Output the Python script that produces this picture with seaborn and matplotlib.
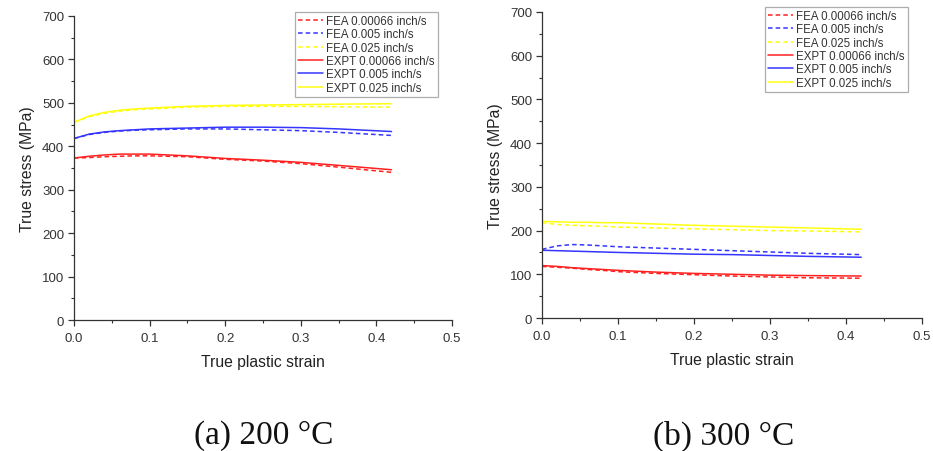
import matplotlib
matplotlib.use("Agg")
import matplotlib.pyplot as plt
import seaborn as sns
import pandas as pd

# True plastic strain sample points shared by all curves
strain = [0.0, 0.02, 0.04, 0.06, 0.08, 0.10, 0.15, 0.20, 0.25, 0.30, 0.35, 0.42]

# 200 °C — true stress (MPa)
fea_200_00066 = [373, 374, 376, 377, 378, 378, 376, 370, 366, 360, 352, 340]
fea_200_005 = [418, 427, 432, 435, 437, 438, 440, 440, 438, 436, 432, 425]
fea_200_025 = [455, 468, 476, 481, 484, 486, 490, 492, 492, 492, 491, 490]
expt_200_00066 = [373, 377, 380, 382, 382, 382, 378, 372, 368, 363, 356, 346]
expt_200_005 = [418, 428, 433, 436, 438, 440, 442, 444, 444, 443, 440, 434]
expt_200_025 = [455, 470, 478, 483, 486, 488, 492, 494, 495, 496, 497, 498]

# 300 °C — true stress (MPa)
fea_300_00066 = [118, 116, 114, 111, 109, 106, 102, 99, 96, 94, 92, 91]
fea_300_005 = [157, 165, 168, 167, 165, 163, 160, 157, 154, 151, 148, 145]
fea_300_025 = [218, 214, 212, 211, 210, 208, 206, 204, 202, 200, 199, 197]
expt_300_00066 = [120, 118, 115, 113, 111, 109, 105, 102, 100, 98, 97, 96]
expt_300_005 = [155, 154, 153, 152, 151, 150, 148, 146, 145, 143, 141, 139]
expt_300_025 = [221, 220, 219, 219, 218, 218, 215, 212, 210, 208, 206, 203]

labels = ["FEA 0.00066 inch/s", "FEA 0.005 inch/s", "FEA 0.025 inch/s",
          "EXPT 0.00066 inch/s", "EXPT 0.005 inch/s", "EXPT 0.025 inch/s"]
colors = ["#ff2020", "#3535ff", "#ffff10", "#ff2020", "#3535ff", "#ffff10"]
styles = [(0, (3, 2)), (0, (3, 2)), (0, (3, 2)), "-", "-", "-"]

panels = [
    ([fea_200_00066, fea_200_005, fea_200_025, expt_200_00066, expt_200_005, expt_200_025],
     [74, 17, 452, 321], (295, 13), "(a) 200 °C", 264),
    ([fea_300_00066, fea_300_005, fea_300_025, expt_300_00066, expt_300_005, expt_300_025],
     [542, 13, 922, 319], (765, 8), "(b) 300 °C", 724),
]

sns.set_style("ticks")
plt.rcParams["font.family"] = ["Liberation Sans", "DejaVu Sans"]

W, H = 933, 452
fig = plt.figure(figsize=(W / 100, H / 100), dpi=100)

for series, (l, t, r, b), (lx, ly), caption, cx in panels:
    ax = fig.add_axes([l / W, 1 - b / H, (r - l) / W, (b - t) / H])
    rows = []
    for lab, vals in zip(labels, series):
        for s, v in zip(strain, vals):
            rows.append({"strain": s, "stress": v, "series": lab})
    df = pd.DataFrame(rows)
    for lab, col, ls in zip(labels, colors, styles):
        sns.lineplot(data=df[df["series"] == lab], x="strain", y="stress",
                     color=col, linestyle=ls, linewidth=1.1, label=lab, ax=ax)
    ax.set_xlim(0, 0.5)
    ax.set_ylim(0, 700)
    ax.set_xticks([0, 0.1, 0.2, 0.3, 0.4, 0.5])
    ax.set_xticklabels(["0.0", "0.1", "0.2", "0.3", "0.4", "0.5"])
    ax.set_xticks([0.05, 0.15, 0.25, 0.35, 0.45], minor=True)
    ax.set_yticks(range(0, 701, 100))
    ax.set_yticks(range(50, 701, 100), minor=True)
    ax.tick_params(axis="both", which="major", labelsize=9.5, length=4, width=0.9,
                   colors="#333333", labelcolor="#333333")
    ax.tick_params(axis="x", which="major", pad=5)
    ax.tick_params(axis="y", which="major", pad=3)
    ax.tick_params(axis="both", which="minor", length=2.5, width=0.8, colors="#333333")
    for sp in ["left", "bottom"]:
        ax.spines[sp].set_color("#333333")
        ax.spines[sp].set_linewidth(0.9)
    sns.despine(ax=ax)
    ax.set_xlabel("True plastic strain", fontsize=11.3, color="#222222", labelpad=7)
    ax.set_ylabel("True stress (MPa)", fontsize=11.3, color="#222222", labelpad=5)
    leg = ax.legend(loc="upper left", bbox_to_anchor=(lx / W, 1 - ly / H),
                    bbox_transform=fig.transFigure, fontsize=8.3, frameon=True,
                    fancybox=False, edgecolor="#999999", handlelength=2.2,
                    handletextpad=0.25, labelspacing=0.12, borderpad=0.25,
                    borderaxespad=0)
    leg.get_frame().set_linewidth(0.9)
    for txt in leg.get_texts():
        txt.set_color("#333333")
    fig.text(cx / W, 1 - 436 / H, caption, ha="center", va="center",
             fontsize=24, family="Liberation Serif", color="#111111")

fig.savefig("out.png", dpi=100)
